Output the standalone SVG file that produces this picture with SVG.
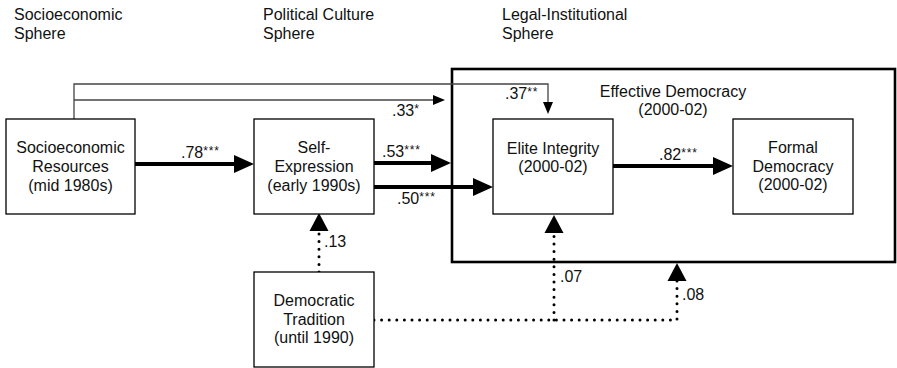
<svg xmlns="http://www.w3.org/2000/svg" width="897" height="368" viewBox="0 0 897 368">
<style>
text{font-family:"Liberation Sans",Arial,Helvetica,sans-serif;font-size:16px;fill:#111}
.c{text-anchor:middle}
.box{fill:#fff;stroke:#000;stroke-width:1.3}
.big{fill:none;stroke:#000;stroke-width:2.6}
.thick{stroke:#000;stroke-width:4;fill:none}
.thin{stroke:#444;stroke-width:1.3;fill:none}
.dot{stroke:#000;stroke-width:3;fill:none;stroke-linecap:round;stroke-dasharray:0 7.6}
.st{font-size:12px;letter-spacing:0.8px}
</style>
<defs>
<marker id="ab" viewBox="0 -10 22 20" refX="0" refY="0" markerWidth="22" markerHeight="20" markerUnits="userSpaceOnUse" orient="auto"><path d="M0,-9 L20,0 L0,9 z" fill="#000"/></marker>
<marker id="at" viewBox="0 -6 14 12" refX="0" refY="0" markerWidth="14" markerHeight="12" markerUnits="userSpaceOnUse" orient="auto"><path d="M0,-5 L12,0 L0,5 z" fill="#000"/></marker>
<marker id="ad" viewBox="0 -10 20 20" refX="0" refY="0" markerWidth="20" markerHeight="20" markerUnits="userSpaceOnUse" orient="auto"><path d="M0,-9.5 L18,0 L0,9.5 z" fill="#000"/></marker>
</defs>

<g id="headers">
<text x="14" y="20">Socioeconomic</text><text x="14" y="39">Sphere</text>
<text x="263" y="20">Political Culture</text><text x="263" y="39">Sphere</text>
<text x="502" y="20">Legal-Institutional</text><text x="502" y="39">Sphere</text>
</g>

<g id="effective-democracy">
<rect class="big" x="452" y="69" width="443" height="193"/>
<text class="c" x="673" y="97">Effective Democracy</text>
<text class="c" x="673" y="115">(2000-02)</text>
</g>

<g id="connectors">
<path class="thin" d="M74,119 V84 H548 V102" marker-end="url(#at)"/>
<path class="thin" d="M74,100 H433" marker-end="url(#at)"/>
<path class="thick" d="M135,164 H234" marker-end="url(#ab)"/>
<path class="thick" d="M374,163 H431" marker-end="url(#ab)"/>
<path class="thick" d="M374,187 H473" marker-end="url(#ab)"/>
<path class="thick" d="M613,166 H713" marker-end="url(#ab)"/>
<path class="dot" d="M319,272 V231" marker-end="url(#ad)"/>
<path class="dot" d="M374,320 H677 V281" marker-end="url(#ad)"/>
<path class="dot" d="M554,320 V233" marker-end="url(#ad)"/>
<text x="392" y="116">.33<tspan class="st" dy="-3">*</tspan></text>
<text x="505" y="99">.37<tspan class="st" dy="-3">**</tspan></text>
<text x="181" y="158">.78<tspan class="st" dy="-3">***</tspan></text>
<text x="382" y="157">.53<tspan class="st" dy="-3">***</tspan></text>
<text x="397" y="204">.50<tspan class="st" dy="-3">***</tspan></text>
<text x="659" y="160">.82<tspan class="st" dy="-3">***</tspan></text>
<text x="324" y="247">.13</text>
<text x="560" y="282">.07</text>
<text x="682" y="300">.08</text>
</g>

<g id="socioeconomic-resources">
<rect class="box" x="6" y="119" width="129" height="95"/>
<text class="c" x="70.5" y="153">Socioeconomic</text>
<text class="c" x="70.5" y="172">Resources</text>
<text class="c" x="70.5" y="191">(mid 1980s)</text>
</g>

<g id="self-expression">
<rect class="box" x="254" y="119" width="120" height="95"/>
<text class="c" x="314" y="153">Self-</text>
<text class="c" x="314" y="172">Expression</text>
<text class="c" x="314" y="191">(early 1990s)</text>
</g>

<g id="democratic-tradition">
<rect class="box" x="254" y="272" width="120" height="95"/>
<text class="c" x="314" y="306">Democratic</text>
<text class="c" x="314" y="325">Tradition</text>
<text class="c" x="314" y="343">(until 1990)</text>
</g>

<g id="elite-integrity">
<rect class="box" x="493" y="119" width="120" height="95"/>
<text class="c" x="553" y="154">Elite Integrity</text>
<text class="c" x="553" y="172">(2000-02)</text>
</g>

<g id="formal-democracy">
<rect class="box" x="733" y="119" width="120" height="95"/>
<text class="c" x="793" y="153">Formal</text>
<text class="c" x="793" y="172">Democracy</text>
<text class="c" x="793" y="190">(2000-02)</text>
</g>
</svg>
